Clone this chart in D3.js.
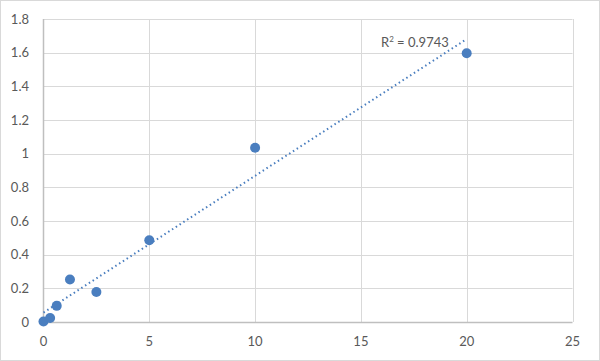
<!DOCTYPE html>
<html><head><meta charset="utf-8">
<script src="https://cdn.jsdelivr.net/npm/d3@7/dist/d3.min.js"></script>
<style>body{margin:0;background:#fff;}svg{display:block;}</style>
</head><body><div id="c"></div>
<script>
const xValues = [0, 0.3125, 0.625, 1.25, 2.5, 5, 10, 20];
const yValues = [0.003, 0.024, 0.096, 0.253, 0.178, 0.486, 1.035, 1.597];
const xTicks = [0, 5, 10, 15, 20, 25];
const yTicks = [0, 0.2, 0.4, 0.6, 0.8, 1, 1.2, 1.4, 1.6, 1.8];
const r2Label = "R\u00b2 = 0.9743";

const W = 600, H = 361;
const svg = d3.select("#c").append("svg").attr("width", W).attr("height", H);
svg.append("rect").attr("x",0.5).attr("y",0.5).attr("width",W-1).attr("height",H-1)
  .attr("fill","#fff").attr("stroke","#d9d9d9");

const x = d3.scaleLinear().domain([0,25]).range([43.5,572.5]);
const y = d3.scaleLinear().domain([0,1.8]).range([322,19]);
const font = "Lato, 'Open Sans', sans-serif";

// gridlines
svg.append("g").selectAll("line").data(yTicks.slice(1)).join("line")
  .attr("x1",x(0)).attr("x2",x(25)).attr("y1",d=>Math.round(y(d))+0.5).attr("y2",d=>Math.round(y(d))+0.5)
  .attr("stroke","#d9d9d9").attr("stroke-width",1);
svg.append("g").selectAll("line").data(xTicks.slice(1)).join("line")
  .attr("y1",y(0)).attr("y2",y(1.8)).attr("x1",d=>Math.round(x(d))+0.5).attr("x2",d=>Math.round(x(d))+0.5)
  .attr("stroke","#d9d9d9").attr("stroke-width",1);
// axis lines
svg.append("line").attr("x1",x(0)).attr("x2",x(25)).attr("y1",y(0)+0.5).attr("y2",y(0)+0.5).attr("stroke","#bfbfbf").attr("stroke-width",1.5);
svg.append("line").attr("x1",x(0)).attr("x2",x(0)).attr("y1",y(0)).attr("y2",y(1.8)).attr("stroke","#bfbfbf").attr("stroke-width",1.5);

// tick labels
svg.append("g").selectAll("text").data(yTicks).join("text")
  .attr("x",29).attr("y",d=>y(d)+4.5).attr("text-anchor","end")
  .attr("font-family",font).attr("font-size",13).attr("fill","#595959").text(d=>d3.format("~g")(d));
svg.append("g").selectAll("text").data(xTicks).join("text")
  .attr("x",d=>x(d)).attr("y",346).attr("text-anchor","middle")
  .attr("font-family",font).attr("font-size",13).attr("fill","#595959").text(d=>d);

// linear regression trendline
const n = xValues.length;
const mx = d3.mean(xValues), my = d3.mean(yValues);
let sxy=0, sxx=0;
for (let i=0;i<n;i++){ sxy+=(xValues[i]-mx)*(yValues[i]-my); sxx+=(xValues[i]-mx)**2; }
const slope = sxy/sxx, icpt = my - slope*mx;
const xMax = d3.max(xValues);
svg.append("line").attr("x1",x(0)).attr("y1",y(icpt)).attr("x2",x(xMax)).attr("y2",y(icpt+slope*xMax))
  .attr("stroke","#4a7ebf").attr("stroke-width",2).attr("stroke-dasharray","1.5,3");

// points
svg.append("g").selectAll("circle").data(xValues.map((d,i)=>[d,yValues[i]])).join("circle")
  .attr("cx",d=>x(d[0])).attr("cy",d=>y(d[1])).attr("r",5).attr("fill","#4a7ebf");

// R2 label
const t = svg.append("text").attr("x",381).attr("y",47).attr("font-family",font).attr("font-size",13).attr("fill","#595959");
t.append("tspan").text("R");
t.append("tspan").attr("font-size",8).attr("dy",-5).text("2");
t.append("tspan").attr("dy",5).text(" = 0.9743");
</script></body></html>
